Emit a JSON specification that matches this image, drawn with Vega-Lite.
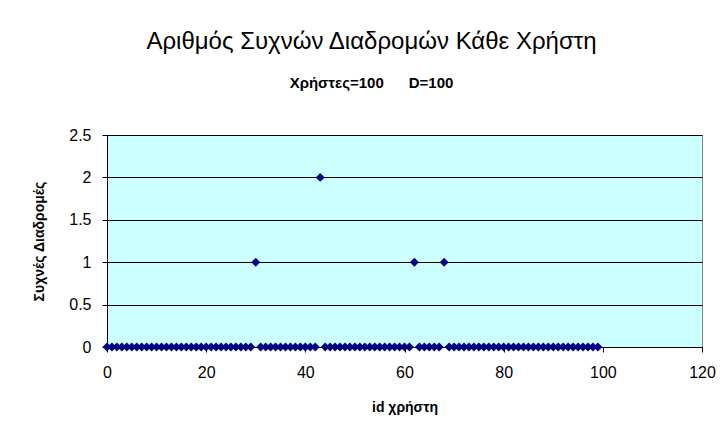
{
  "$schema": "https://vega.github.io/schema/vega-lite/v6.json",
  "width": 595,
  "height": 212,
  "autosize": {"type": "none"},
  "padding": {"left": 107, "top": 135, "right": 19, "bottom": 86},
  "background": "white",
  "title": {
    "text": "Αριθμός Συχνών Διαδρομών Κάθε Χρήστη",
    "subtitle": "Χρήστες=100\u00a0\u00a0\u00a0\u00a0\u00a0\u00a0D=100",
    "anchor": "middle",
    "frame": "group",
    "dx": -33,
    "offset": 36,
    "font": "Liberation Sans",
    "fontSize": 24,
    "fontWeight": "normal",
    "color": "black",
    "subtitleFont": "Liberation Sans",
    "subtitleFontSize": 15,
    "subtitleFontWeight": "bold",
    "subtitleColor": "black",
    "subtitlePadding": 22
  },
  "config": {
    "view": {"fill": "#CCFFFF", "stroke": "#808080", "strokeWidth": 1},
    "axis": {
      "labelFont": "Liberation Sans",
      "labelFontSize": 16,
      "labelColor": "black",
      "titleFont": "Liberation Sans",
      "titleFontSize": 14,
      "titleFontWeight": "bold",
      "titleColor": "black",
      "domainColor": "black",
      "tickColor": "black",
      "tickSize": 5,
      "gridColor": "black",
      "gridOpacity": 1,
      "gridWidth": 1
    }
  },
  "data": {
    "values": [
      {"id": 0, "routes": 0}, {"id": 1, "routes": 0}, {"id": 2, "routes": 0}, {"id": 3, "routes": 0},
      {"id": 4, "routes": 0}, {"id": 5, "routes": 0}, {"id": 6, "routes": 0}, {"id": 7, "routes": 0},
      {"id": 8, "routes": 0}, {"id": 9, "routes": 0}, {"id": 10, "routes": 0}, {"id": 11, "routes": 0},
      {"id": 12, "routes": 0}, {"id": 13, "routes": 0}, {"id": 14, "routes": 0}, {"id": 15, "routes": 0},
      {"id": 16, "routes": 0}, {"id": 17, "routes": 0}, {"id": 18, "routes": 0}, {"id": 19, "routes": 0},
      {"id": 20, "routes": 0}, {"id": 21, "routes": 0}, {"id": 22, "routes": 0}, {"id": 23, "routes": 0},
      {"id": 24, "routes": 0}, {"id": 25, "routes": 0}, {"id": 26, "routes": 0}, {"id": 27, "routes": 0},
      {"id": 28, "routes": 0}, {"id": 29, "routes": 0}, {"id": 30, "routes": 1}, {"id": 31, "routes": 0},
      {"id": 32, "routes": 0}, {"id": 33, "routes": 0}, {"id": 34, "routes": 0}, {"id": 35, "routes": 0},
      {"id": 36, "routes": 0}, {"id": 37, "routes": 0}, {"id": 38, "routes": 0}, {"id": 39, "routes": 0},
      {"id": 40, "routes": 0}, {"id": 41, "routes": 0}, {"id": 42, "routes": 0}, {"id": 43, "routes": 2},
      {"id": 44, "routes": 0}, {"id": 45, "routes": 0}, {"id": 46, "routes": 0}, {"id": 47, "routes": 0},
      {"id": 48, "routes": 0}, {"id": 49, "routes": 0}, {"id": 50, "routes": 0}, {"id": 51, "routes": 0},
      {"id": 52, "routes": 0}, {"id": 53, "routes": 0}, {"id": 54, "routes": 0}, {"id": 55, "routes": 0},
      {"id": 56, "routes": 0}, {"id": 57, "routes": 0}, {"id": 58, "routes": 0}, {"id": 59, "routes": 0},
      {"id": 60, "routes": 0}, {"id": 61, "routes": 0}, {"id": 62, "routes": 1}, {"id": 63, "routes": 0},
      {"id": 64, "routes": 0}, {"id": 65, "routes": 0}, {"id": 66, "routes": 0}, {"id": 67, "routes": 0},
      {"id": 68, "routes": 1}, {"id": 69, "routes": 0}, {"id": 70, "routes": 0}, {"id": 71, "routes": 0},
      {"id": 72, "routes": 0}, {"id": 73, "routes": 0}, {"id": 74, "routes": 0}, {"id": 75, "routes": 0},
      {"id": 76, "routes": 0}, {"id": 77, "routes": 0}, {"id": 78, "routes": 0}, {"id": 79, "routes": 0},
      {"id": 80, "routes": 0}, {"id": 81, "routes": 0}, {"id": 82, "routes": 0}, {"id": 83, "routes": 0},
      {"id": 84, "routes": 0}, {"id": 85, "routes": 0}, {"id": 86, "routes": 0}, {"id": 87, "routes": 0},
      {"id": 88, "routes": 0}, {"id": 89, "routes": 0}, {"id": 90, "routes": 0}, {"id": 91, "routes": 0},
      {"id": 92, "routes": 0}, {"id": 93, "routes": 0}, {"id": 94, "routes": 0}, {"id": 95, "routes": 0},
      {"id": 96, "routes": 0}, {"id": 97, "routes": 0}, {"id": 98, "routes": 0}, {"id": 99, "routes": 0}
    ]
  },
  "mark": {"type": "point", "shape": "diamond", "filled": true, "size": 80, "color": "#000080", "opacity": 1},
  "encoding": {
    "x": {
      "field": "id",
      "type": "quantitative",
      "scale": {"domain": [0, 120], "nice": false, "zero": true},
      "axis": {
        "title": "id χρήστη",
        "values": [0, 20, 40, 60, 80, 100, 120],
        "grid": false,
        "labelPadding": 12,
        "titlePadding": 20,
        "labelFlush": false
      }
    },
    "y": {
      "field": "routes",
      "type": "quantitative",
      "scale": {"domain": [0, 2.5], "nice": false},
      "axis": {
        "title": "Συχνές Διαδρομές",
        "values": [0, 0.5, 1, 1.5, 2, 2.5],
        "format": "~g",
        "grid": true,
        "labelPadding": 11,
        "titlePadding": 22,
        "labelFlush": false
      }
    }
  }
}
